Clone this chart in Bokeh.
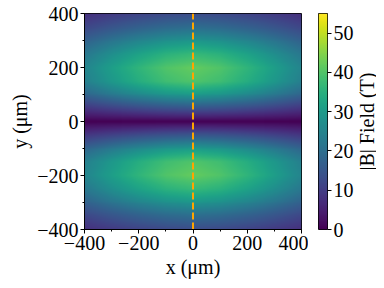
import math
import numpy as np
from bokeh.plotting import figure
from bokeh.layouts import row
from bokeh.models import LinearColorMapper, LinearAxis, SingleIntervalTicker, FixedTicker
from bokeh.core.properties import value
from bokeh.palettes import Viridis256
from bokeh.embed import file_html
from bokeh.resources import INLINE

# |B| along the y direction at x = 0 (T)
y_pts = [-400, -350, -300, -250, -200, -150, -100, -50, 0, 50, 100, 150, 200, 250, 300, 350, 400]
B_along_y = [13, 20, 29, 37, 42, 40, 30, 15, 0, 15, 30, 40, 42, 37, 29, 20, 13]
# |B| along the x direction at y = 200 um (T)
x_pts = [-400, -300, -200, -100, 0, 100, 200, 300, 400]
B_along_x = [25, 31, 36, 40, 42, 40, 36, 31, 25]
# cut marker
cut_x = [0, 0]
cut_y = [-400, 400]
cbar_ticks = [0, 10, 20, 30, 40, 50]
cbar_label = "|B| Field (T)"
B_low, B_high = 0, 55

N = 220
xf = np.linspace(x_pts[0], x_pts[-1], N)
yf = np.linspace(y_pts[0], y_pts[-1], N)
by = np.interp(yf, y_pts, B_along_y)
bx = np.interp(xf, x_pts, B_along_x)
grid = np.outer(by, bx / max(B_along_x))

mapper = LinearColorMapper(palette=Viridis256, low=B_low, high=B_high)
FONT = "Liberation Serif"
FS = "20px"

p = figure(width=308, height=280, x_range=(-400, 400), y_range=(-400, 400),
           output_backend="svg", toolbar_location=None,
           min_border_left=84, min_border_right=7, min_border_top=13, min_border_bottom=49)
p.image(image=[grid], x=-400, y=-400, dw=800, dh=800, color_mapper=mapper)
p.line(x=cut_x, y=cut_y, line_color="#FFA500", line_width=2, line_dash="7 3")
p.grid.visible = False
p.outline_line_color = "black"
p.outline_line_alpha = 1
p.outline_line_width = 1
for ax, lab in ((p.xaxis[0], "x (μm)"), (p.yaxis[0], "y (μm)")):
    ax.ticker = SingleIntervalTicker(interval=200, num_minor_ticks=2)
    ax.axis_label = lab
    ax.axis_label_text_font = FONT
    ax.axis_label_text_font_size = FS
    ax.axis_label_text_font_style = "normal"
    ax.axis_label_text_color = "black"
    ax.major_label_text_font = FONT
    ax.major_label_text_font_size = FS
    ax.major_label_text_color = "black"
    ax.major_tick_out = 4
    ax.major_tick_in = 0
    ax.minor_tick_out = 2
    ax.minor_tick_in = 0
    ax.axis_line_color = "black"
    ax.major_tick_line_color = "black"
    ax.minor_tick_line_color = "black"
    ax.axis_label_standoff = 3
    ax.major_label_standoff = 2

cbar_vals = np.linspace(B_low, B_high, 256).reshape(256, 1)
cb = figure(width=48, height=280, x_range=(0, 1), y_range=(B_low, B_high),
            output_backend="svg", toolbar_location=None,
            min_border_left=10, min_border_right=26, min_border_top=13, min_border_bottom=49)
cb.image(image=[cbar_vals], x=0, y=B_low, dw=1, dh=B_high - B_low, color_mapper=mapper)
cb.xaxis.visible = False
cb.yaxis.visible = False
cb.grid.visible = False
cb.outline_line_color = "black"
cb.outline_line_alpha = 1
rax = LinearAxis(ticker=FixedTicker(ticks=cbar_ticks))
rax.major_label_text_font = FONT
rax.major_label_text_font_size = FS
rax.major_label_text_color = "black"
rax.axis_line_color = None
rax.major_tick_out = 4
rax.major_tick_in = 0
rax.major_tick_line_color = "black"
rax.minor_tick_line_color = None
rax.major_label_standoff = 2
cb.add_layout(rax, "right")

lf = figure(width=20, height=280, x_range=(-1, 1), y_range=(-1, 1),
            output_backend="svg", toolbar_location=None,
            min_border_left=0, min_border_right=0, min_border_top=13, min_border_bottom=49)
lf.text(x=[0], y=[0], text=[cbar_label], angle=math.pi / 2,
        text_font=value(FONT), text_font_size=FS, text_color="black",
        text_align="center", text_baseline="middle")
lf.axis.visible = False
lf.grid.visible = False
lf.outline_line_color = None

layout = row(p, cb, lf)
open("out.html", "w").write(file_html(layout, INLINE))
